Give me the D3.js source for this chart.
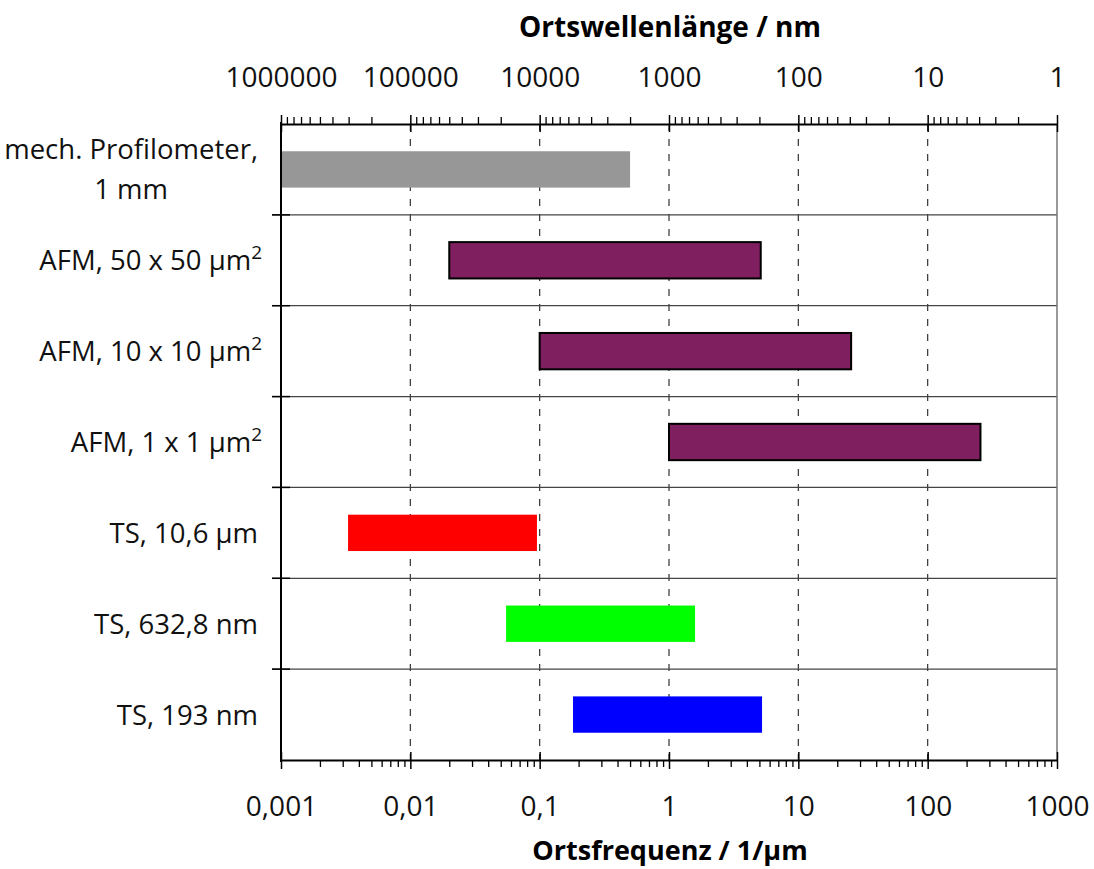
<!DOCTYPE html>
<html>
<head>
<meta charset="utf-8">
<script src="https://cdn.jsdelivr.net/npm/d3@7"></script>
<style>
  html, body { margin: 0; padding: 0; background: #fff; }
  svg { display: block; font-family: "Open Sans", "Noto Sans", sans-serif; }
</style>
</head>
<body>
<svg id="chart" width="1094" height="869"></svg>
<script>
// Zeilen (von oben nach unten), "\n" = Zeilenumbruch, "^" = Hochstellung
const rowLabels = [
    "mech. Profilometer,\n1 mm",
    "AFM, 50 x 50 µm^2",
    "AFM, 10 x 10 µm^2",
    "AFM, 1 x 1 µm^2",
    "TS, 10,6 µm",
    "TS, 632,8 nm",
    "TS, 193 nm"
];
// Ortsfrequenzbereich in 1/µm
const fMin = [0.001, 0.02, 0.1, 1, 0.0033, 0.055, 0.181];
const fMax = [0.5, 5.12, 25.6, 256, 0.0953, 1.59, 5.24];

const barColors = ["#979797", "#7f1f5f", "#7f1f5f", "#7f1f5f", "#ff0000", "#00ff00", "#0000ff"];
const barOutline = [false, true, true, true, false, false, false];

const freqTicks = [0.001, 0.01, 0.1, 1, 10, 100, 1000];
const freqTickLabels = ["0,001", "0,01", "0,1", "1", "10", "100", "1000"];
const waveTicks = [1000000, 100000, 10000, 1000, 100, 10, 1];
const waveTickLabels = ["1000000", "100000", "10000", "1000", "100", "10", "1"];

const margin = { left: 281, right: 1057, top: 124, bottom: 760 };
const svg = d3.select("#chart");

// Skalen
const x = d3.scaleLog().domain([0.001, 1000]).range([margin.left, margin.right]);
const xTop = d3.scaleLog().domain([1000000, 1]).range([margin.left, margin.right]); // λ[nm] = 1000 / f[1/µm]
const y = d3.scaleBand().domain(d3.range(rowLabels.length)).range([margin.top, margin.bottom]);

const isDecade = v => Math.abs(Math.log10(v) - Math.round(Math.log10(v))) < 1e-6;

// vertikale Gitterlinien (gestrichelt)
svg.append("g")
    .selectAll("line")
    .data(freqTicks.slice(1, -1))
    .enter().append("line")
    .attr("x1", d => x(d)).attr("x2", d => x(d))
    .attr("y1", margin.top).attr("y2", margin.bottom)
    .attr("stroke", "#333")
    .attr("stroke-width", 1.2)
    .attr("stroke-dasharray", "7,8");

// Zeilentrenner
svg.append("g")
    .selectAll("line")
    .data(d3.range(1, rowLabels.length))
    .enter().append("line")
    .attr("x1", margin.left - 9).attr("x2", margin.right)
    .attr("y1", d => y(d)).attr("y2", d => y(d))
    .attr("stroke", "#444")
    .attr("stroke-width", 1.3);

// Balken
const barH = y.bandwidth() * 0.4;
svg.append("g")
    .selectAll("rect")
    .data(rowLabels.map((l, i) => i))
    .enter().append("rect")
    .attr("x", i => x(fMin[i]))
    .attr("width", i => x(fMax[i]) - x(fMin[i]))
    .attr("y", i => y(i) + (y.bandwidth() - barH) / 2)
    .attr("height", barH)
    .attr("fill", i => barColors[i])
    .attr("stroke", i => barOutline[i] ? "#000" : "none")
    .attr("stroke-width", 2);

// Rahmen rechts
svg.append("line")
    .attr("x1", margin.right).attr("x2", margin.right)
    .attr("y1", margin.top).attr("y2", margin.bottom)
    .attr("stroke", "#777").attr("stroke-width", 1.5);

// linke Achse
svg.append("line")
    .attr("x1", margin.left).attr("x2", margin.left)
    .attr("y1", margin.top - 2).attr("y2", margin.bottom + 2)
    .attr("stroke", "#000").attr("stroke-width", 2);
svg.append("g")
    .selectAll("line")
    .data(d3.range(1, rowLabels.length))
    .enter().append("line")
    .attr("x1", margin.left - 9).attr("x2", margin.left + 9)
    .attr("y1", d => y(d)).attr("y2", d => y(d))
    .attr("stroke", "#000").attr("stroke-width", 1.5);

// untere Achse
const minorFreq = x.ticks().filter(v => !isDecade(v));
svg.append("g")
    .attr("transform", `translate(0,${margin.bottom})`)
    .call(d3.axisBottom(x).tickValues(minorFreq).tickSize(7).tickFormat(""))
    .call(g => g.select(".domain").remove())
    .selectAll("line").attr("stroke", "#000").attr("stroke-width", 1.3);

const bottomAxis = svg.append("g")
    .attr("transform", `translate(0,${margin.bottom})`)
    .call(d3.axisBottom(x).tickValues(freqTicks)
        .tickFormat((d, i) => freqTickLabels[i])
        .tickSizeInner(9).tickSizeOuter(0).tickPadding(27));
bottomAxis.select(".domain").attr("stroke", "#000").attr("stroke-width", 2);
bottomAxis.selectAll(".tick line").attr("y1", -8).attr("stroke", "#000").attr("stroke-width", 1.5);
bottomAxis.selectAll(".tick text")
    .attr("font-size", 28).attr("font-family", "Open Sans").attr("fill", "#111");

// obere Achse (Ortswellenlänge)
const minorWave = xTop.ticks().filter(v => !isDecade(v));
svg.append("g")
    .attr("transform", `translate(0,${margin.top})`)
    .call(d3.axisTop(xTop).tickValues(minorWave).tickSize(7).tickFormat(""))
    .call(g => g.select(".domain").remove())
    .selectAll("line").attr("stroke", "#000").attr("stroke-width", 1.3);

const topAxis = svg.append("g")
    .attr("transform", `translate(0,${margin.top})`)
    .call(d3.axisTop(xTop).tickValues(waveTicks)
        .tickFormat((d, i) => waveTickLabels[i])
        .tickSizeInner(9).tickSizeOuter(0).tickPadding(28));
topAxis.select(".domain").attr("stroke", "#000").attr("stroke-width", 2);
topAxis.selectAll(".tick line").attr("y1", 8).attr("stroke", "#000").attr("stroke-width", 1.5);
topAxis.selectAll(".tick text")
    .attr("font-size", 28).attr("font-family", "Open Sans").attr("fill", "#111");

// Zeilenbeschriftungen
const labelX = 258;
const labelSize = 27.5;
rowLabels.forEach((label, i) => {
    const cy = y(i) + y.bandwidth() / 2;
    const lines = label.split("\n");
    if (lines.length > 1) {
        const first = svg.append("text")
            .attr("x", labelX).attr("y", cy - 20 + 10)
            .attr("text-anchor", "end")
            .attr("font-size", labelSize).attr("fill", "#111")
            .text(lines[0]);
        const w = first.node().getComputedTextLength();
        svg.append("text")
            .attr("x", labelX - w / 2).attr("y", cy + 20 + 10)
            .attr("text-anchor", "middle")
            .attr("font-size", labelSize).attr("fill", "#111")
            .text(lines[1]);
    } else {
        const parts = label.split("^");
        const t = svg.append("text")
            .attr("x", labelX + (parts.length > 1 ? 4 : 0)).attr("y", cy + 10)
            .attr("text-anchor", "end")
            .attr("font-size", labelSize).attr("fill", "#111");
        t.append("tspan").text(parts[0]);
        if (parts.length > 1) {
            t.append("tspan").attr("dy", -11).attr("font-size", 19).text(parts[1]);
        }
    }
});

// Achsentitel
svg.append("text")
    .attr("x", 670).attr("y", 37)
    .attr("text-anchor", "middle")
    .attr("font-size", 28).attr("font-weight", "bold").attr("fill", "#000")
    .text("Ortswellenlänge / nm");

svg.append("text")
    .attr("x", 670).attr("y", 860)
    .attr("text-anchor", "middle")
    .attr("font-size", 27).attr("font-weight", "bold").attr("fill", "#000")
    .text("Ortsfrequenz / 1/µm");
</script>
</body>
</html>
